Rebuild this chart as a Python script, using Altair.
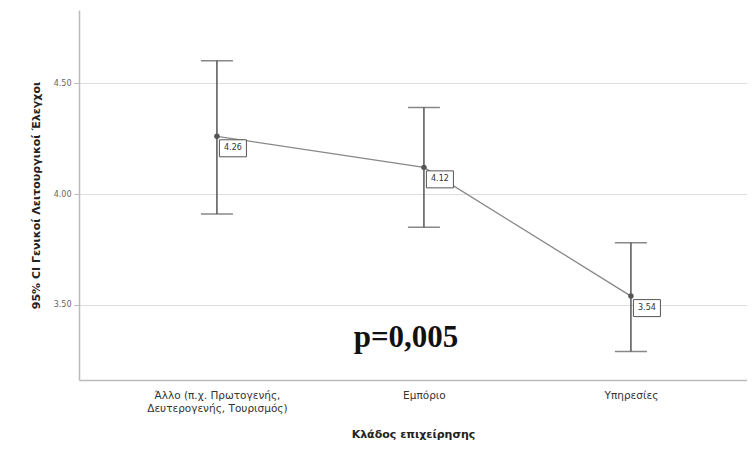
import altair as alt
import pandas as pd

categories = ["Άλλο (π.χ. Πρωτογενής, Δευτερογενής, Τουρισμός)", "Εμπόριο", "Υπηρεσίες"]
means = [4.26, 4.12, 3.54]
lower = [3.91, 3.85, 3.29]
upper = [4.60, 4.39, 3.78]
y_ticks = [3.50, 4.00, 4.50]
p_text = "p=0,005"

df = pd.DataFrame({"cat": categories, "mean": means, "lo": lower, "hi": upper})

FONT = "DejaVu Sans"
label_expr = (
    "datum.label === '" + categories[0] + "' ? "
    "['Άλλο (π.χ. Πρωτογενής,', 'Δευτερογενής, Τουρισμός)'] : datum.label"
)

x = alt.X(
    "cat:N",
    sort=categories,
    scale=alt.Scale(type="point", padding=0.6135, align=0.543),
    axis=alt.Axis(
        title="Κλάδος επιχείρησης",
        labelAngle=0,
        ticks=False,
        labelPadding=10,
        labelFontSize=10.5,
        labelLineHeight=13,
        labelColor="#333",
        labelFont=FONT,
        labelExpr=label_expr,
        titleFont=FONT,
        titleFontSize=11,
        titleFontWeight="bold",
        titleColor="#222",
        titlePadding=15,
        domainColor="#bbb",
        domainWidth=1.5,
        grid=False,
    ),
)
yscale = alt.Scale(domain=[3.162, 4.829], nice=False, zero=False)
y = alt.Y(
    "mean:Q",
    scale=yscale,
    axis=alt.Axis(
        title="95% CI Γενικοί Λειτουργικοί Έλεγχοι",
        values=y_ticks,
        format=".2f",
        labelFontSize=8,
        labelColor="#666",
        labelFont=FONT,
        tickSize=5,
        tickColor="#bbb",
        labelPadding=3,
        domainColor="#bbb",
        domainWidth=1.5,
        gridColor="#ddd",
        gridWidth=1.2,
        titleFont=FONT,
        titleFontSize=11,
        titleFontWeight="bold",
        titleColor="#222",
        titlePadding=12,
    ),
)

base = alt.Chart(df)

line = base.mark_line(color="#888", strokeWidth=1.3).encode(x=x, y=y)
rule = base.mark_rule(color="#555", strokeWidth=1.5).encode(
    x=alt.X("cat:N", sort=categories), y=alt.Y("lo:Q", scale=yscale), y2="hi:Q"
)
cap_hi = base.mark_tick(color="#555", size=32, thickness=1.5).encode(
    x=alt.X("cat:N", sort=categories), y=alt.Y("hi:Q", scale=yscale)
)
cap_lo = base.mark_tick(color="#555", size=32, thickness=1.5).encode(
    x=alt.X("cat:N", sort=categories), y=alt.Y("lo:Q", scale=yscale)
)
pts = base.mark_circle(color="#555", size=30, opacity=1).encode(
    x=alt.X("cat:N", sort=categories), y=alt.Y("mean:Q", scale=yscale)
)
boxes = base.mark_point(
    shape="M-1,-0.63H1V0.63H-1Z",
    size=27 * 27,
    filled=False,
    fill="white",
    fillOpacity=1,
    stroke="#555",
    strokeWidth=1,
    opacity=1,
    xOffset=16,
    yOffset=12,
).encode(x=alt.X("cat:N", sort=categories), y=alt.Y("mean:Q", scale=yscale))
labels = base.mark_text(
    dx=16, dy=12, fontSize=8, font=FONT, color="#333", baseline="middle", align="center"
).encode(
    x=alt.X("cat:N", sort=categories),
    y=alt.Y("mean:Q", scale=yscale),
    text=alt.Text("mean:Q", format=".2f"),
)

ptxt = alt.Chart(pd.DataFrame({"t": [p_text]})).mark_text(
    font="Liberation Serif", fontSize=31, fontWeight="bold", color="#111",
    align="center", baseline="middle"
).encode(x=alt.value(327), y=alt.value(328), text="t:N")

chart = (
    alt.layer(line, rule, cap_hi, cap_lo, pts, boxes, labels, ptxt)
    .properties(
        width=668,
        height=370,
        background="white",
        autosize=alt.AutoSizeParams(type="none"),
        padding={"left": 71, "top": 2, "right": 0, "bottom": 62},
    )
    .configure_view(strokeWidth=0, stroke="transparent")
)

chart.save("out.html", embed_options={"renderer": "svg", "actions": False})
